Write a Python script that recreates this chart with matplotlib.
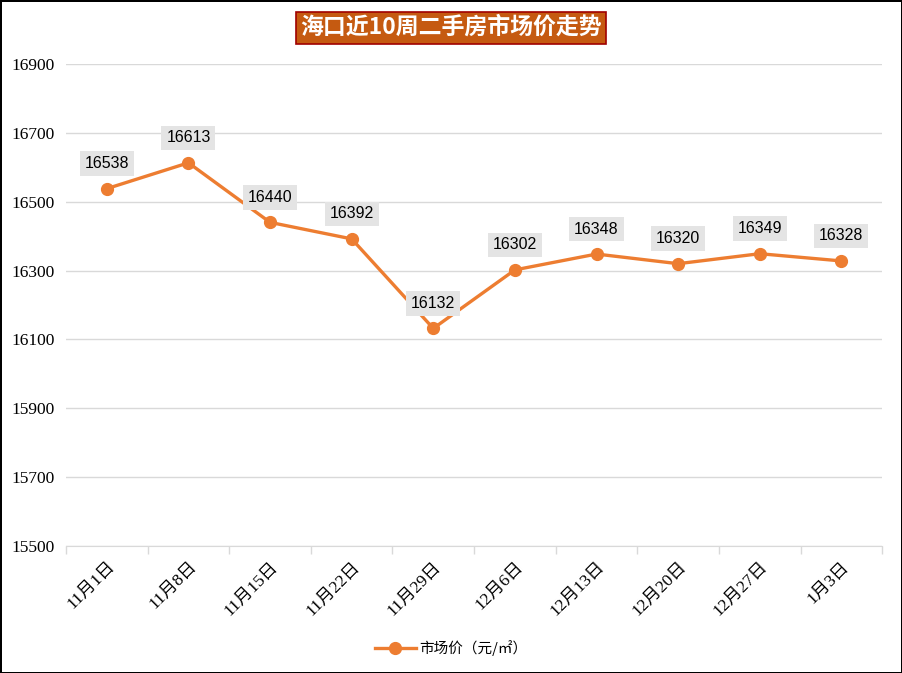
import matplotlib.pyplot as plt
import numpy as np

plt.rcParams['font.family'] = ['Liberation Serif', 'Noto Sans CJK SC', 'DejaVu Sans']

weeks = ['11月1日', '11月8日', '11月15日', '11月22日', '11月29日',
         '12月6日', '12月13日', '12月20日', '12月27日', '1月3日']
prices = [16538, 16613, 16440, 16392, 16132, 16302, 16348, 16320, 16349, 16328]
yticks = [15500, 15700, 15900, 16100, 16300, 16500, 16700, 16900]

orange = '#ED7D31'

fig = plt.figure(figsize=(9.02, 6.73), dpi=100)
fig.patch.set_edgecolor('black')
fig.patch.set_linewidth(2)
ax = fig.add_axes([0.0732, 0.1887, 0.9048, 0.7162])

x = np.arange(len(weeks))
ax.plot(x, prices, color=orange, lw=2.4, marker='o', ms=8.5,
        label='市场价（元/㎡）', zorder=3)

for xi, v in zip(x, prices):
    ax.annotate(str(v), (xi, v), xytext=(0, 18), textcoords='offset points',
                ha='center', va='center', fontsize=11.5, family='Liberation Sans',
                bbox=dict(boxstyle='square,pad=0.3', fc='#E4E4E4', ec='none'),
                zorder=4)

ax.set_xlim(-0.5, len(weeks) - 0.5)
ax.set_ylim(15500, 16900)
ax.set_yticks(yticks)
ax.set_yticklabels([str(t) for t in yticks], fontsize=12.5)
ax.tick_params(axis='y', length=0, pad=8)
ax.grid(axis='y', color='#D9D9D9', lw=1)
ax.set_axisbelow(True)

ax.set_xticks(x)
ax.set_xticklabels(weeks, rotation=45, ha='right', rotation_mode='anchor', fontsize=12.5)
ax.tick_params(axis='x', length=0, pad=9)
ax.set_xticks(np.arange(-0.5, len(weeks)), minor=True)
ax.tick_params(axis='x', which='minor', length=6, color='#D9D9D9', width=1)

for s in ['top', 'right', 'left']:
    ax.spines[s].set_visible(False)
ax.spines['bottom'].set_color('#D9D9D9')

fig.text(0.5, 0.959, '海口近10周二手房市场价走势', ha='center', va='center',
         fontsize=16.5, color='white', fontweight='bold',
         family=['Noto Sans CJK SC', 'DejaVu Sans'],
         bbox=dict(boxstyle='square,pad=0.2', fc='#C55A11', ec='#A00000', lw=1.2))

fig.legend(loc='center', bbox_to_anchor=(0.5, 0.037), frameon=False,
           prop={'family': ['Noto Sans CJK SC', 'DejaVu Sans'], 'size': 10.5},
           handlelength=2.8, handletextpad=0.2)

fig.savefig('out.png', dpi=100, edgecolor=fig.get_edgecolor())
